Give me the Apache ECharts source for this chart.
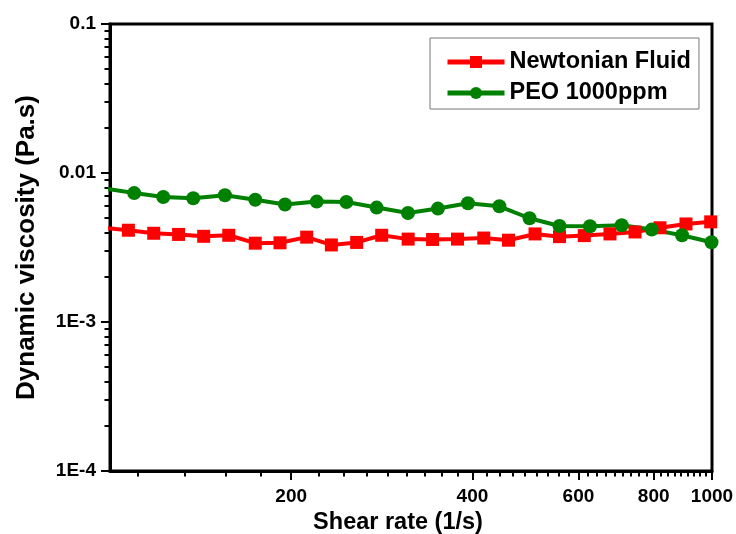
<!DOCTYPE html>
<html>
<head>
<meta charset="utf-8">
<script src="https://cdn.jsdelivr.net/npm/echarts@6/dist/echarts.min.js"></script>
<style>
  html, body { margin: 0; padding: 0; background: #fff; }
  #chart { width: 736px; height: 534px; }
</style>
</head>
<body>
<div id="chart"></div>
<script>
// shear rate (1/s) and viscosity (Pa.s)
const newtonRate = [97.4, 107.3, 118.2, 130.0, 143.1, 157.5, 174.3, 191.6, 212.2, 233.2, 256.9, 282.7, 312.8,
  343.4, 377.8, 417.7, 459.2, 508.2, 558.1, 613.5, 676.9, 745.0, 819.6, 905.3, 995]
const newtonVisc = [0.00429, 0.00413, 0.00394, 0.00387, 0.00376, 0.00382, 0.00338, 0.00340, 0.00371, 0.00329,
  0.00342, 0.00382, 0.00360, 0.00358, 0.00360, 0.00366, 0.00354, 0.00390, 0.00374, 0.00380, 0.00390, 0.00402,
  0.00429, 0.00455, 0.00470]

const peoRate = [97.7, 109.7, 122.6, 137.5, 155.2, 174.3, 195.3, 220.5, 247.0, 277.3, 312.6, 350.5, 393.2,
  443.4, 497.6, 558.1, 627.1, 707.9, 794.2, 891.7, 998]
const peoVisc = [0.00788, 0.00733, 0.00690, 0.00677, 0.00709, 0.00661, 0.00614, 0.00643, 0.00639, 0.00586,
  0.00539, 0.00577, 0.00626, 0.00598, 0.00497, 0.00441, 0.00439, 0.00446, 0.00417, 0.00382, 0.00343]

// tick labels
const xTickValues = [200, 400, 600, 800, 1000]
const xTickLabels = ['200', '400', '600', '800', '1000']
const yTickValues = [0.0001, 0.001, 0.01, 0.1]
const yTickLabels = ['1E-4', '1E-3', '0.01', '0.1']

// minor ticks: x every 200/9 between majors, y at 2..9 per decade
const xMinor = []
for (let i = 1; i < 45; i++) {
  const v = 200 * i / 9
  if (v > 100 && i % 9 !== 0) xMinor.push(v)
}
const yMinor = []
for (const d of [0.0001, 0.001, 0.01]) {
  for (let k = 2; k <= 9; k++) yMinor.push(d * k)
}

const font = 'Liberation Sans'
const pick = (vals, labels) => v => {
  const i = vals.findIndex(t => Math.abs(t - v) / t < 1e-6)
  return i >= 0 ? labels[i] : ''
}

const chart = echarts.init(document.getElementById('chart'))
chart.setOption({
  backgroundColor: '#fff',
  animation: false,
  grid: {
    left: 110, top: 24, right: 24, bottom: 63, outerBoundsMode: 'none', containLabel: false,
    show: true, borderColor: '#000', borderWidth: 3, backgroundColor: 'transparent'
  },
  legend: {
    orient: 'vertical', left: 430, top: 38,
    borderColor: '#777', borderWidth: 1, padding: [12, 8, 4, 15],
    itemWidth: 57, itemHeight: 15, itemGap: 7,
    lineStyle: { width: 5 },
    textStyle: { fontFamily: font, fontWeight: 'bold', fontSize: 23.5, color: '#000' },
    data: ['Newtonian Fluid', 'PEO 1000ppm']
  },
  xAxis: [
    {
      type: 'log', min: 100, max: 1000, position: 'bottom',
      name: 'Shear rate (1/s)', nameLocation: 'middle', nameGap: 40,
      nameTextStyle: { fontFamily: font, fontWeight: 'bold', fontSize: 23.5, color: '#000', padding: [0, 26, 0, 0] },
      axisLine: { onZero: false, lineStyle: { color: '#000', width: 3 } },
      axisTick: { customValues: xTickValues, length: 9, lineStyle: { color: '#000', width: 2 } },
      axisLabel: { customValues: xTickValues, formatter: pick(xTickValues, xTickLabels), margin: 16,
        fontFamily: font, fontWeight: 'bold', fontSize: 19, color: '#000' },
      splitLine: { show: false }, minorTick: { show: false }
    },
    {
      type: 'log', min: 100, max: 1000, position: 'bottom',
      axisLine: { show: false, onZero: false },
      axisTick: { customValues: xMinor, length: 5.5, lineStyle: { color: '#000', width: 2 } },
      axisLabel: { show: false }, splitLine: { show: false }
    }
  ],
  yAxis: [
    {
      type: 'log', min: 0.0001, max: 0.1, position: 'left',
      name: 'Dynamic viscosity (Pa.s)', nameLocation: 'middle', nameGap: 70,
      nameTextStyle: { fontFamily: font, fontWeight: 'bold', fontSize: 26, color: '#000' },
      axisLine: { onZero: false, lineStyle: { color: '#000', width: 3 } },
      axisTick: { customValues: yTickValues, length: 9, lineStyle: { color: '#000', width: 2 } },
      axisLabel: { customValues: yTickValues, formatter: pick(yTickValues, yTickLabels), margin: 14,
        fontFamily: font, fontWeight: 'bold', fontSize: 19, color: '#000' },
      splitLine: { show: false }, minorTick: { show: false }
    },
    {
      type: 'log', min: 0.0001, max: 0.1, position: 'left',
      axisLine: { show: false, onZero: false },
      axisTick: { customValues: yMinor, length: 5.5, lineStyle: { color: '#000', width: 2 } },
      axisLabel: { show: false }, splitLine: { show: false }
    }
  ],
  series: [
    {
      name: 'Newtonian Fluid', type: 'line', clip: true,
      data: newtonRate.map((x, i) => [x, newtonVisc[i]]),
      symbol: 'rect', symbolSize: 13,
      lineStyle: { color: '#ff0000', width: 4 }, itemStyle: { color: '#ff0000' }
    },
    {
      name: 'PEO 1000ppm', type: 'line', clip: true,
      data: peoRate.map((x, i) => [x, peoVisc[i]]),
      symbol: 'circle', symbolSize: 14,
      lineStyle: { color: '#008000', width: 4 }, itemStyle: { color: '#008000' }
    }
  ]
})
</script>
</body>
</html>
